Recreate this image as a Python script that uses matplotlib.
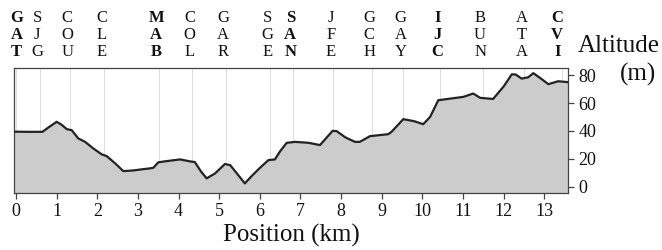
import matplotlib
matplotlib.use("Agg")
import matplotlib.pyplot as plt
import matplotlib.transforms as mtransforms

serif = ["Liberation Serif", "DejaVu Serif"]
plt.rcParams["font.family"] = serif

# ---- data ----
stations = ["GAT", "SJG", "COU", "CLE", "MAB", "COL", "GAR", "SGE", "SAN",
            "JFE", "GCH", "GAY", "IJC", "BUN", "ATA", "CVI"]
station_km = [0.0, 0.58, 1.32, 2.17, 3.51, 4.33, 5.16, 6.25, 6.81,
              7.81, 8.75, 9.53, 10.43, 11.48, 12.51, 13.44]
bold_stations = ["GAT", "MAB", "SAN", "IJC", "CVI"]

pos_km = [-0.05, 0.0, 0.3, 0.65, 0.82, 1.0, 1.12, 1.25, 1.37, 1.53, 1.70,
          1.90, 2.11, 2.23, 2.45, 2.64, 2.89, 3.10, 3.30, 3.38, 3.50, 3.71,
          4.04, 4.28, 4.40, 4.55, 4.69, 4.90, 5.14, 5.27, 5.45, 5.63, 5.80,
          6.00, 6.21, 6.37, 6.50, 6.66, 6.87, 7.20, 7.48, 7.65, 7.79, 7.89,
          8.10, 8.34, 8.46, 8.71, 9.16, 9.24, 9.53, 9.80, 10.02, 10.19,
          10.39, 11.01, 11.25, 11.42, 11.74, 12.00, 12.20, 12.30, 12.44,
          12.60, 12.73, 12.90, 13.10, 13.34, 13.60]
alt_m = [39.5, 39.5, 39.4, 39.4, 43.0, 46.6, 44.5, 41.3, 40.6, 34.7, 32.2,
         27.5, 23.2, 22.0, 16.5, 11.2, 11.7, 12.5, 13.2, 13.6, 17.5, 18.4,
         19.6, 18.2, 17.7, 11.0, 6.0, 9.6, 16.3, 15.5, 9.0, 2.4, 7.7, 13.5,
         19.1, 19.6, 25.5, 31.5, 32.2, 31.5, 29.9, 35.5, 40.1, 39.9, 35.5,
         32.2, 32.2, 36.3, 37.7, 39.4, 48.5, 47.0, 44.9, 50.1, 62.1, 64.5,
         66.9, 63.8, 63.0, 72.0, 80.7, 80.5, 77.6, 78.5, 81.5, 78.0, 73.6,
         75.7, 75.0]

xticks = list(range(0, 14))
yticks = [0, 20, 40, 60, 80]

# ---- figure ----
W, H, DPI = 662, 250, 100
fig = plt.figure(figsize=(W / DPI, H / DPI), dpi=DPI)
ax = fig.add_axes([14 / W, 1 - 193 / H, (568.3 - 14) / W, (193 - 68.3) / H])

ax.set_xlim(-0.05, 13.59)
ax.set_ylim(-4.5, 85)

for x in station_km:
    ax.axvline(x, color="#dedede", lw=0.7, zorder=1)

ax.fill_between(pos_km, alt_m, -10, color="#cccccc", zorder=2, lw=0)
ax.plot(pos_km, alt_m, color="#222222", lw=1.6, zorder=3,
        solid_joinstyle="round", solid_capstyle="round")

for s in ax.spines.values():
    s.set_color("#444444")
    s.set_linewidth(0.9)

ax.yaxis.tick_right()
ax.set_yticks(yticks)
ax.set_xticks(xticks)
ax.tick_params(axis="both", direction="out", length=4.5, width=0.9,
               color="#444444", labelsize=13, labelcolor="#111111")
ax.tick_params(axis="x", pad=3)
ax.tick_params(axis="y", pad=3)
for lab in ax.get_xticklabels() + ax.get_yticklabels():
    lab.set_fontfamily(serif)

ax.set_xlabel("Position (km)", fontsize=18, labelpad=2.5, color="#111111",
              fontfamily=serif)

# right-side y label
fig.text(619 / W, 1 - 46 / H, "Altitude", fontsize=18, ha="center",
         va="center", color="#111111", fontfamily=serif)
fig.text(638 / W, 1 - 74 / H, "(m)", fontsize=18, ha="center",
         va="center", color="#111111", fontfamily=serif)

# station labels (vertical letters above the chart)
trans = mtransforms.blended_transform_factory(ax.transData, fig.transFigure)
row_y = [18.3, 35.0, 52.3]
for name, x in zip(stations, station_km):
    weight = "bold" if name in bold_stations else "normal"
    off = -2.5 if name != "GAT" else 0.5
    if name == "CVI":
        off = -5
    t2 = trans + mtransforms.ScaledTranslation(off / DPI, 0, fig.dpi_scale_trans)
    for ch, ry in zip(name, row_y):
        ax.text(x, 1 - ry / H, ch, transform=t2, ha="center", va="center",
                fontsize=12, fontweight=weight, color="#111111",
                fontfamily=serif, clip_on=False)

fig.savefig("out.png", dpi=DPI)
